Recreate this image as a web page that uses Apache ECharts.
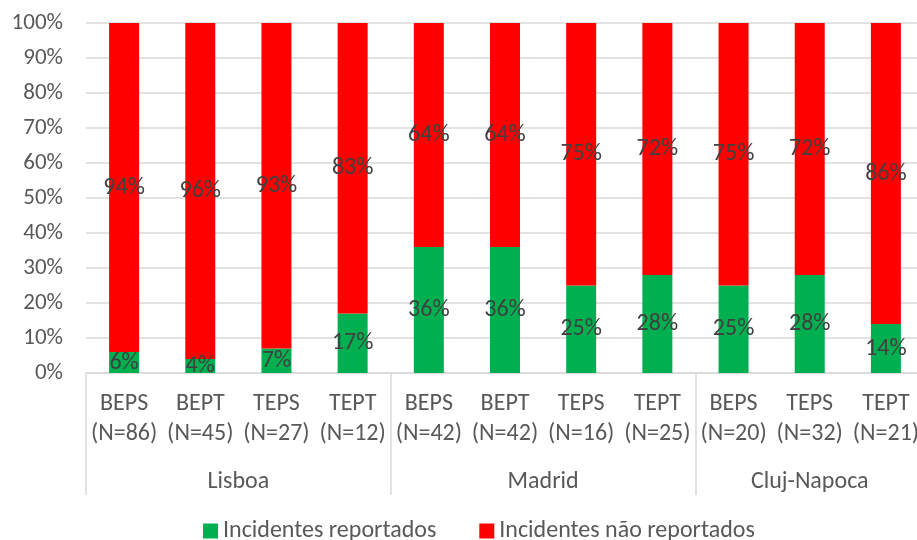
<!DOCTYPE html>
<html><head><meta charset="utf-8">
<script src="https://cdn.jsdelivr.net/npm/echarts@6/dist/echarts.min.js"></script>
<style>html,body{margin:0;padding:0;background:#fff}#c{width:917px;height:540px}</style>
</head><body><div id="c"></div>
<script>
const categories = ['BEPS\n(N=86)','BEPT\n(N=45)','TEPS\n(N=27)','TEPT\n(N=12)',
  'BEPS\n(N=42)','BEPT\n(N=42)','TEPS\n(N=16)','TEPT\n(N=25)',
  'BEPS\n(N=20)','TEPS\n(N=32)','TEPT\n(N=21)'];
const groups = ['Lisboa','Madrid','Cluj-Napoca'];
const groupSizes = [4,4,3];
const reported = [6,4,7,17,36,36,25,28,25,28,14];
const notReported = [94,96,93,83,64,64,75,72,75,72,86];
const seriesNames = ['Incidentes reportados','Incidentes não reportados'];

const FONT = 'Carlito, Lato, sans-serif';
const boundaries = [];
const groupMid = {};
let acc = 0;
groupSizes.forEach((s,i)=>{ boundaries.push(acc); groupMid[acc + s/2] = groups[i]; acc += s; });

const chart = echarts.init(document.getElementById('c'));
chart.setOption({
  animation:false,
  textStyle:{fontFamily:FONT},
  grid:{left:86, top:23, width:838, height:350, containLabel:false, outerBoundsMode:'none'},
  legend:{data:seriesNames, left:198, top:514, icon:'rect', itemWidth:15, itemHeight:15, itemGap:43,
    textStyle:{fontSize:24, color:'#595959', fontFamily:FONT}},
  xAxis:[{
    type:'category', data:categories,
    axisLine:{show:true, lineStyle:{color:'#d9d9d9', width:1.5}},
    axisTick:{show:true, length:122, lineStyle:{color:'#d9d9d9', width:1.5},
      interval:(i)=>boundaries.indexOf(i)>=0},
    axisLabel:{interval:0, fontSize:24, lineHeight:30, color:'#595959', margin:16, fontFamily:FONT}
  },{
    type:'value', min:0, max:acc, interval:0.5, position:'bottom',
    axisLine:{show:false}, axisTick:{show:false}, splitLine:{show:false},
    axisLabel:{fontSize:24, color:'#595959', margin:97, fontFamily:FONT,
      formatter:(v)=>groupMid[v]||''}
  }],
  yAxis:{type:'value', min:0, max:100, interval:10,
    axisLine:{show:false}, axisTick:{show:false},
    splitLine:{lineStyle:{color:'#d9d9d9', width:1.5}},
    axisLabel:{formatter:'{value}%', fontSize:23, color:'#595959', margin:23, fontFamily:FONT}},
  series:[{
    name:seriesNames[0], type:'bar', stack:'a', data:reported, barWidth:30,
    itemStyle:{color:'#00b050'},
    label:{show:true, position:'inside', formatter:'{c}%', fontSize:24, color:'#404040', fontFamily:FONT}
  },{
    name:seriesNames[1], type:'bar', stack:'a', data:notReported, barWidth:30,
    itemStyle:{color:'#ff0000'},
    label:{show:true, position:'inside', formatter:'{c}%', fontSize:24, color:'#404040', fontFamily:FONT}
  }]
});
</script></body></html>
